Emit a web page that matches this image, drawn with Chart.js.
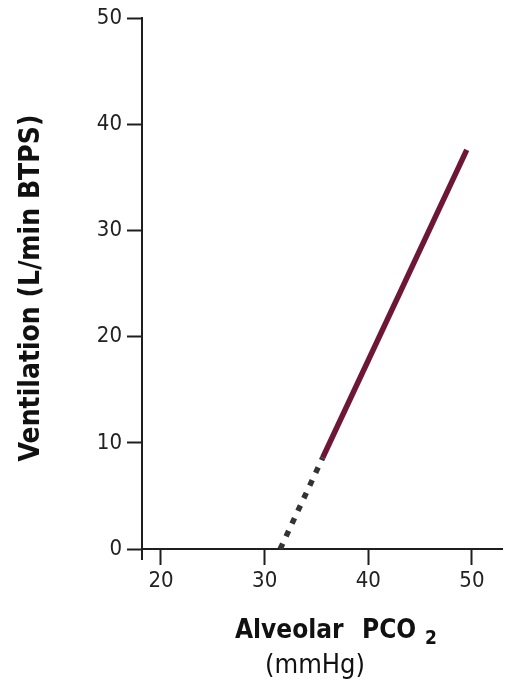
<!DOCTYPE html>
<html>
<head>
<meta charset="utf-8">
<script src="https://cdn.jsdelivr.net/npm/chart.js@4/dist/chart.umd.min.js"></script>
<style>
  html, body { margin: 0; padding: 0; background: #fff; }
  #wrap { width: 507px; height: 681px; position: relative; }
</style>
</head>
<body>
<div id="wrap"><canvas id="myChart"></canvas></div>
<script>
// Ventilation vs alveolar PCO2 (mmHg)
const xTicks = [20, 30, 40, 50];
const yTicks = [0, 10, 20, 30, 40, 50];

// extrapolated part of the response line (dotted)
const extrapPco2 = [31.5, 35.6];
const extrapVent = [0, 8.6];

// measured part of the response line (solid)
const measPco2 = [35.6, 49.5];
const measVent = [8.6, 37.6];

const FONT = "'DejaVu Sans Condensed', 'DejaVu Sans', sans-serif";
const AXIS_COLOR = '#1e1e1e';

function toPoints(xs, ys) {
  return xs.map((x, i) => ({ x: x, y: ys[i] }));
}

// axis titles, drawn by hand because of the subscript
const titlesPlugin = {
  id: 'titles',
  afterDraw(chart) {
    const ctx = chart.ctx;
    ctx.save();
    ctx.fillStyle = '#111';
    ctx.textBaseline = 'alphabetic';

    ctx.font = 'bold 26px ' + FONT;
    ctx.textAlign = 'left';
    ctx.fillText('Alveolar', 235, 638);
    ctx.fillText('PCO', 362, 638);
    ctx.font = 'bold 19px ' + FONT;
    ctx.fillText('2', 425, 644);

    ctx.font = '27px ' + FONT;
    ctx.fillText('(mmHg)', 265, 673);

    ctx.translate(39, 288);
    ctx.rotate(-Math.PI / 2);
    ctx.textAlign = 'center';
    ctx.font = 'bold 28px ' + FONT;
    ctx.fillText('Ventilation (L/min BTPS)', 0, 0);
    ctx.restore();
  }
};

const ctx = document.getElementById('myChart').getContext('2d');
const myChart = new Chart(ctx, {
  type: 'scatter',
  data: {
    datasets: [{
      data: toPoints(extrapPco2, extrapVent),
      showLine: true,
      borderColor: '#333333',
      borderWidth: 5.5,
      borderDash: [6, 8],
      borderCapStyle: 'butt',
      pointRadius: 0
    }, {
      data: toPoints(measPco2, measVent),
      showLine: true,
      borderColor: '#6e1636',
      borderWidth: 5.5,
      borderCapStyle: 'butt',
      pointRadius: 0
    }]
  },
  options: {
    responsive: true,
    maintainAspectRatio: false,
    animation: false,
    layout: {
      padding: { left: 82, right: 5, top: 18, bottom: 122 }
    },
    plugins: {
      legend: { display: false },
      tooltip: { enabled: false }
    },
    scales: {
      x: {
        type: 'linear',
        min: 18.17,
        max: 52.9,
        position: { y: 0 },
        afterBuildTicks: scale => { scale.ticks = xTicks.map(v => ({ value: v })); },
        border: { display: true, color: AXIS_COLOR, width: 2 },
        grid: {
          drawOnChartArea: false,
          drawTicks: true,
          tickLength: 15,
          tickColor: AXIS_COLOR,
          tickWidth: 2
        },
        ticks: {
          font: { family: FONT, size: 22 },
          color: '#222',
          padding: 4,
          maxRotation: 0
        }
      },
      y: {
        type: 'linear',
        min: -0.94,
        max: 50,
        position: 'left',
        afterBuildTicks: scale => { scale.ticks = yTicks.map(v => ({ value: v })); },
        afterFit: scale => { scale.width = 60; },
        border: { display: true, color: AXIS_COLOR, width: 2 },
        grid: {
          drawOnChartArea: false,
          drawTicks: true,
          tickLength: 15,
          tickColor: AXIS_COLOR,
          tickWidth: 2
        },
        ticks: {
          font: { family: FONT, size: 22 },
          color: '#222',
          padding: 5
        }
      }
    }
  },
  plugins: [titlesPlugin]
});
</script>
</body>
</html>
